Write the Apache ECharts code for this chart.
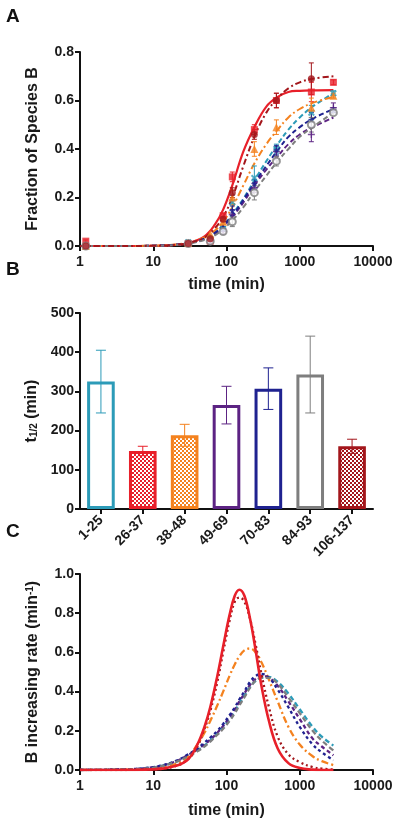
<!DOCTYPE html>
<html><head><meta charset="utf-8">
<script src="https://cdn.jsdelivr.net/npm/echarts@6/dist/echarts.min.js"></script>
<style>html,body{margin:0;padding:0;background:#fff}#c{width:400px;height:826px}</style>
</head><body><div id="c"></div>
<script>
// ---------- DATA ----------
// Panel A: measured fractions
const timesA = [1.2, 30, 60, 90, 120, 240, 480, 1440, 2880];
const obs_1_25   = [0.00, 0.015, 0.03, 0.07, 0.18, 0.28, 0.40, 0.55, 0.63];
const obs_26_37  = [0.02, 0.01, 0.02, 0.125, 0.285, 0.48, 0.60, 0.635, 0.675];
const obs_38_48  = [0.00, 0.012, 0.05, 0.10, 0.20, 0.40, 0.49, 0.57, 0.62];
const obs_49_69  = [0.00, 0.01, 0.02, 0.06, 0.13, 0.24, 0.39, 0.46, 0.57];
const obs_70_83  = [0.00, 0.015, 0.02, 0.07, 0.145, 0.255, 0.395, 0.52, 0.56];
const obs_84_93  = [0.00, 0.01, 0.02, 0.06, 0.10, 0.22, 0.35, 0.50, 0.55];
const obs_106_137= [0.00, 0.01, 0.03, 0.11, 0.22, 0.46, 0.60, 0.69, null];
const err_1_25   = [0, 0, 0, 0.01, 0.03, 0.05, 0.02, 0.03, 0.01];
const err_26_37  = [0.005, 0, 0.01, 0.01, 0.02, 0.02, 0.03, 0.04, 0.01];
const err_38_48  = [0, 0, 0, 0.01, 0.03, 0.03, 0.03, 0.04, 0.01];
const err_49_69  = [0, 0, 0, 0.01, 0.02, 0.02, 0.02, 0.03, 0.02];
const err_70_83  = [0, 0, 0, 0.01, 0.02, 0.02, 0.02, 0.03, 0.01];
const err_84_93  = [0, 0, 0, 0.01, 0.02, 0.03, 0.02, 0.03, 0.01];
const err_106_137= [0, 0, 0, 0.01, 0.02, 0.02, 0.03, 0.065, 0];
// Panel A: fitted curves
const timesFitA = [1, 3, 10, 20, 30, 50, 70, 90, 120, 170, 240, 350, 500, 700, 1000, 1500, 2880];
const fit_1_25   = [0,0,0.001,0.005,0.012,0.03,0.055,0.085,0.13,0.195,0.27,0.35,0.42,0.48,0.53,0.575,0.63];
const fit_26_37  = [0,0,0.001,0.005,0.012,0.04,0.09,0.15,0.25,0.39,0.49,0.575,0.615,0.635,0.64,0.642,0.643];
const fit_38_48  = [0,0,0.001,0.006,0.014,0.035,0.065,0.10,0.16,0.25,0.34,0.42,0.48,0.53,0.565,0.59,0.615];
const fit_49_69  = [0,0,0.001,0.005,0.011,0.028,0.05,0.08,0.12,0.18,0.25,0.315,0.37,0.42,0.46,0.49,0.53];
const fit_70_83  = [0,0,0.001,0.005,0.012,0.03,0.055,0.085,0.125,0.19,0.26,0.33,0.395,0.45,0.49,0.525,0.565];
const fit_84_93  = [0,0,0.001,0.004,0.01,0.025,0.045,0.07,0.105,0.16,0.225,0.29,0.35,0.40,0.45,0.49,0.55];
const fit_106_137= [0,0,0.001,0.005,0.012,0.035,0.075,0.12,0.20,0.33,0.45,0.55,0.61,0.65,0.675,0.69,0.70];
// Panel B: half-times
const categories = ['1-25','26-37','38-48','49-69','70-83','84-93','106-137'];
const halfTimes  = [325, 148, 188, 265, 307, 343, 160];
const halfErrors = [80, 12, 28, 48, 53, 98, 18];
// Panel C: rate curves
const timesC = [1, 3, 10, 20, 30, 40, 50, 60, 75, 90, 110, 130, 150, 175, 210, 250, 300, 380, 500, 700, 1000, 1500, 2000, 2880];
const rate_1_25   = [0,0.002,0.013,0.042,0.075,0.10,0.125,0.15,0.185,0.22,0.26,0.30,0.34,0.38,0.425,0.455,0.47,0.475,0.45,0.39,0.31,0.22,0.17,0.125];
const rate_26_37  = [0,0,0.003,0.02,0.055,0.13,0.22,0.32,0.48,0.63,0.79,0.89,0.92,0.89,0.77,0.61,0.43,0.25,0.11,0.035,0.01,0.002,0,0];
const rate_38_48  = [0,0.001,0.006,0.03,0.07,0.13,0.19,0.25,0.33,0.40,0.48,0.54,0.58,0.61,0.62,0.60,0.55,0.46,0.35,0.22,0.13,0.07,0.045,0.025];
const rate_49_69  = [0,0.002,0.014,0.043,0.077,0.105,0.13,0.155,0.19,0.225,0.27,0.31,0.35,0.39,0.435,0.465,0.48,0.47,0.43,0.35,0.26,0.16,0.12,0.075];
const rate_70_83  = [0,0.002,0.015,0.045,0.08,0.11,0.14,0.165,0.20,0.235,0.28,0.32,0.36,0.40,0.45,0.48,0.49,0.47,0.41,0.32,0.22,0.13,0.09,0.05];
const rate_84_93  = [0,0.002,0.012,0.04,0.07,0.095,0.12,0.145,0.18,0.21,0.25,0.29,0.33,0.37,0.42,0.455,0.47,0.47,0.44,0.37,0.29,0.20,0.15,0.10];
const rate_106_137= [0,0,0.003,0.02,0.055,0.12,0.21,0.30,0.45,0.60,0.76,0.86,0.88,0.86,0.77,0.64,0.49,0.32,0.17,0.08,0.04,0.015,0.007,0.003];

// ---------- STYLE ----------
const FONT = 'Liberation Sans, Arial, Helvetica, sans-serif';
const C = {
  t: '#2C9BB8', r: '#E8202A', o: '#F4821F', p: '#5C2383', n: '#1F2290', g: '#7E7E7E', d: '#A3161B'
};
const groups = [
  {key:'1-25',   col:C.t, obs:obs_1_25,   err:err_1_25,   fit:fit_1_25,   rate:rate_1_25,   dashA:[5,3], dashC:[5,3], sym:'path://M2,0L5,3L8,0L10,2L7,5L10,8L8,10L5,7L2,10L0,8L3,5L0,2Z', pat:false},
  {key:'26-37',  col:C.r, obs:obs_26_37,  err:err_26_37,  fit:fit_26_37,  rate:rate_26_37,  dashA:'solid', dashC:'solid', sym:'rect', pat:true},
  {key:'38-48',  col:C.o, obs:obs_38_48,  err:err_38_48,  fit:fit_38_48,  rate:rate_38_48,  dashA:[7,3,2,3], dashC:[7,3,2,3], sym:'triangle', pat:true},
  {key:'49-69',  col:C.p, obs:obs_49_69,  err:err_49_69,  fit:fit_49_69,  rate:rate_49_69,  dashA:[5,3], dashC:[4,3], sym:'path://M4,0H6V4H10V6H6V10H4V6H0V4H4Z', pat:false},
  {key:'70-83',  col:C.n, obs:obs_70_83,  err:err_70_83,  fit:fit_70_83,  rate:rate_70_83,  dashA:[5,3], dashC:[3,3], sym:'path://M5,0L6.2,3.3L10,3.5L7,5.8L8.1,9.5L5,7.3L1.9,9.5L3,5.8L0,3.5L3.8,3.3Z', pat:false},
  {key:'84-93',  col:C.g, obs:obs_84_93,  err:err_84_93,  fit:fit_84_93,  rate:rate_84_93,  dashA:[5,3], dashC:[5,3], sym:'emptyCircle', pat:false},
  {key:'106-137',col:C.d, obs:obs_106_137,err:err_106_137,fit:fit_106_137,rate:rate_106_137,dashA:[6,3,2,3], dashC:[2,3], sym:'circle', pat:true}
];

function checker(color){
  const c = document.createElement('canvas'); c.width = 4; c.height = 4;
  const g = c.getContext('2d');
  g.fillStyle = '#fff'; g.fillRect(0,0,4,4);
  g.fillStyle = color; g.fillRect(0,0,2,2); g.fillRect(2,2,2,2);
  return c;
}

const axisLine = {lineStyle:{color:'#111', width:2}};
const axisTick = {show:true, length:5, lineStyle:{color:'#111', width:2}};
const lblY = {color:'#1a1a1a', fontFamily:FONT, fontWeight:'bold', fontSize:14};
const lblX = {color:'#1a1a1a', fontFamily:FONT, fontWeight:'bold', fontSize:13};
const nameStyle = {color:'#1a1a1a', fontFamily:FONT, fontWeight:'bold', fontSize:16};

const grids = [
  {left:80, width:293, top:52, height:194},
  {left:80, width:293, top:313, height:196},
  {left:80, width:293, top:574, height:196}
];

function logX(idx, gap){
  return {type:'log', logBase:10, gridIndex:idx, min:1, max:10000,
    name:'time (min)', nameLocation:'middle', nameGap:gap, nameTextStyle:nameStyle,
    axisLine, axisTick, minorTick:{show:false}, splitLine:{show:false},
    axisLabel:{...lblX, fontSize:14, margin:9, formatter:v=>String(Math.round(v))}};
}

function errRender(capHalf, lw){
  return function(params, api){
    const x = api.value(0), lo = api.value(1), hi = api.value(2);
    const a = api.coord([x, lo]), b = api.coord([x, hi]);
    const col = api.visual('color');
    const st = {stroke: col, lineWidth: lw};
    return {type:'group', children:[
      {type:'line', shape:{x1:b[0], y1:a[1], x2:b[0], y2:b[1]}, style:st},
      {type:'line', shape:{x1:b[0]-capHalf, y1:b[1], x2:b[0]+capHalf, y2:b[1]}, style:st},
      {type:'line', shape:{x1:a[0]-capHalf, y1:a[1], x2:a[0]+capHalf, y2:a[1]}, style:st}
    ]};
  };
}

const series = [];
// Panel A
groups.forEach(g => {
  series.push({type:'line', xAxisIndex:0, yAxisIndex:0, smooth:0.4, showSymbol:false, silent:true,
    data: timesFitA.map((t,i)=>[t, g.fit[i]]),
    lineStyle:{color:g.col, width: g.dashA==='solid'?2.2:2, type:g.dashA}, z:2});
  series.push({type:'custom', xAxisIndex:0, yAxisIndex:0, silent:true,
    renderItem: errRender(2.5, 1), itemStyle:{color:g.col, opacity:0.6},
    data: timesA.map((t,i)=> g.obs[i]==null||!g.err[i] ? null : [t, g.obs[i]-g.err[i], g.obs[i]+g.err[i]]).filter(Boolean), z:3});
  series.push({type:'scatter', xAxisIndex:0, yAxisIndex:0, symbol:g.sym, symbolSize: g.sym==='rect'?7:(g.sym==='triangle'?8:7),
    itemStyle:{color:g.col, borderColor:g.col, borderWidth: g.sym==='emptyCircle'?1.5:0},
    data: timesA.map((t,i)=> g.obs[i]==null ? null : [t, g.obs[i]]).filter(Boolean), z:4});
});
// Panel B
series.push({type:'bar', xAxisIndex:1, yAxisIndex:1, barWidth:'66%',
  data: halfTimes.map((v,i)=>({value:v, itemStyle:{
    color: groups[i].pat ? {image: checker(groups[i].col), repeat:'repeat'} : '#fff',
    borderColor: groups[i].col, borderWidth:3}})), z:2});
series.push({type:'custom', xAxisIndex:1, yAxisIndex:1, silent:true,
  renderItem: errRender(5, 1), z:3,
  data: halfTimes.map((v,i)=>({value:[i, v-halfErrors[i], v+halfErrors[i]], itemStyle:{color:groups[i].col, opacity:0.5}}))});
// Panel C
groups.forEach(g => {
  series.push({type:'line', xAxisIndex:2, yAxisIndex:2, smooth:0.4, showSymbol:false, silent:true,
    data: timesC.map((t,i)=>[t, g.rate[i]]),
    lineStyle:{color:g.col, width: g.dashC==='solid'?2.6:2.3, type:g.dashC}, z: g.key==='26-37'?5:3});
});

const option = {
  animation:false,
  backgroundColor:'#fff',
  grid: grids,
  xAxis: [
    logX(0, 31),
    {type:'category', gridIndex:1, data:categories, axisLine,
     axisTick:{show:true, alignWithLabel:true, length:5, lineStyle:{color:'#111', width:2}},
     axisLabel:{...lblX, fontSize:14, rotate:45, margin:9, interval:0}},
    logX(2, 33)
  ],
  yAxis: [
    {type:'value', gridIndex:0, min:0, max:0.8, interval:0.2, splitLine:{show:false}, axisLine:{show:true, ...axisLine}, axisTick,
     axisLabel:{...lblY, margin:6, formatter:v=>v.toFixed(1)},
     name:'Fraction of Species B', nameLocation:'middle', nameGap:39, nameTextStyle:nameStyle},
    {type:'value', gridIndex:1, min:0, max:500, interval:100, splitLine:{show:false}, axisLine:{show:true, ...axisLine}, axisTick,
     axisLabel:{...lblY, margin:6},
     name:'{a|t}{s|1/2}{a| (min)}', nameLocation:'middle', nameGap:39,
     nameTextStyle:{...nameStyle, rich:{a:{...nameStyle}, s:{...nameStyle, fontSize:10, verticalAlign:'bottom', padding:[6,0,0,0]}}}},
    {type:'value', gridIndex:2, min:0, max:1.0, interval:0.2, splitLine:{show:false}, axisLine:{show:true, ...axisLine}, axisTick,
     axisLabel:{...lblY, margin:6, formatter:v=>v.toFixed(1)},
     name:'{a|B increasing rate (min}{s|-1}{a|)}', nameLocation:'middle', nameGap:39,
     nameTextStyle:{...nameStyle, rich:{a:{...nameStyle}, s:{...nameStyle, fontSize:10, verticalAlign:'top', padding:[0,0,6,0]}}}}
  ],
  graphic: [
    {type:'text', left:6, top:7, style:{text:'A', font:'bold 19px '+FONT, fill:'#111'}},
    {type:'text', left:6, top:260, style:{text:'B', font:'bold 19px '+FONT, fill:'#111'}},
    {type:'text', left:6, top:522, style:{text:'C', font:'bold 19px '+FONT, fill:'#111'}}
  ],
  series
};
const chart = echarts.init(document.getElementById('c'), null, {renderer:'canvas'});
chart.setOption(option);
</script></body></html>
